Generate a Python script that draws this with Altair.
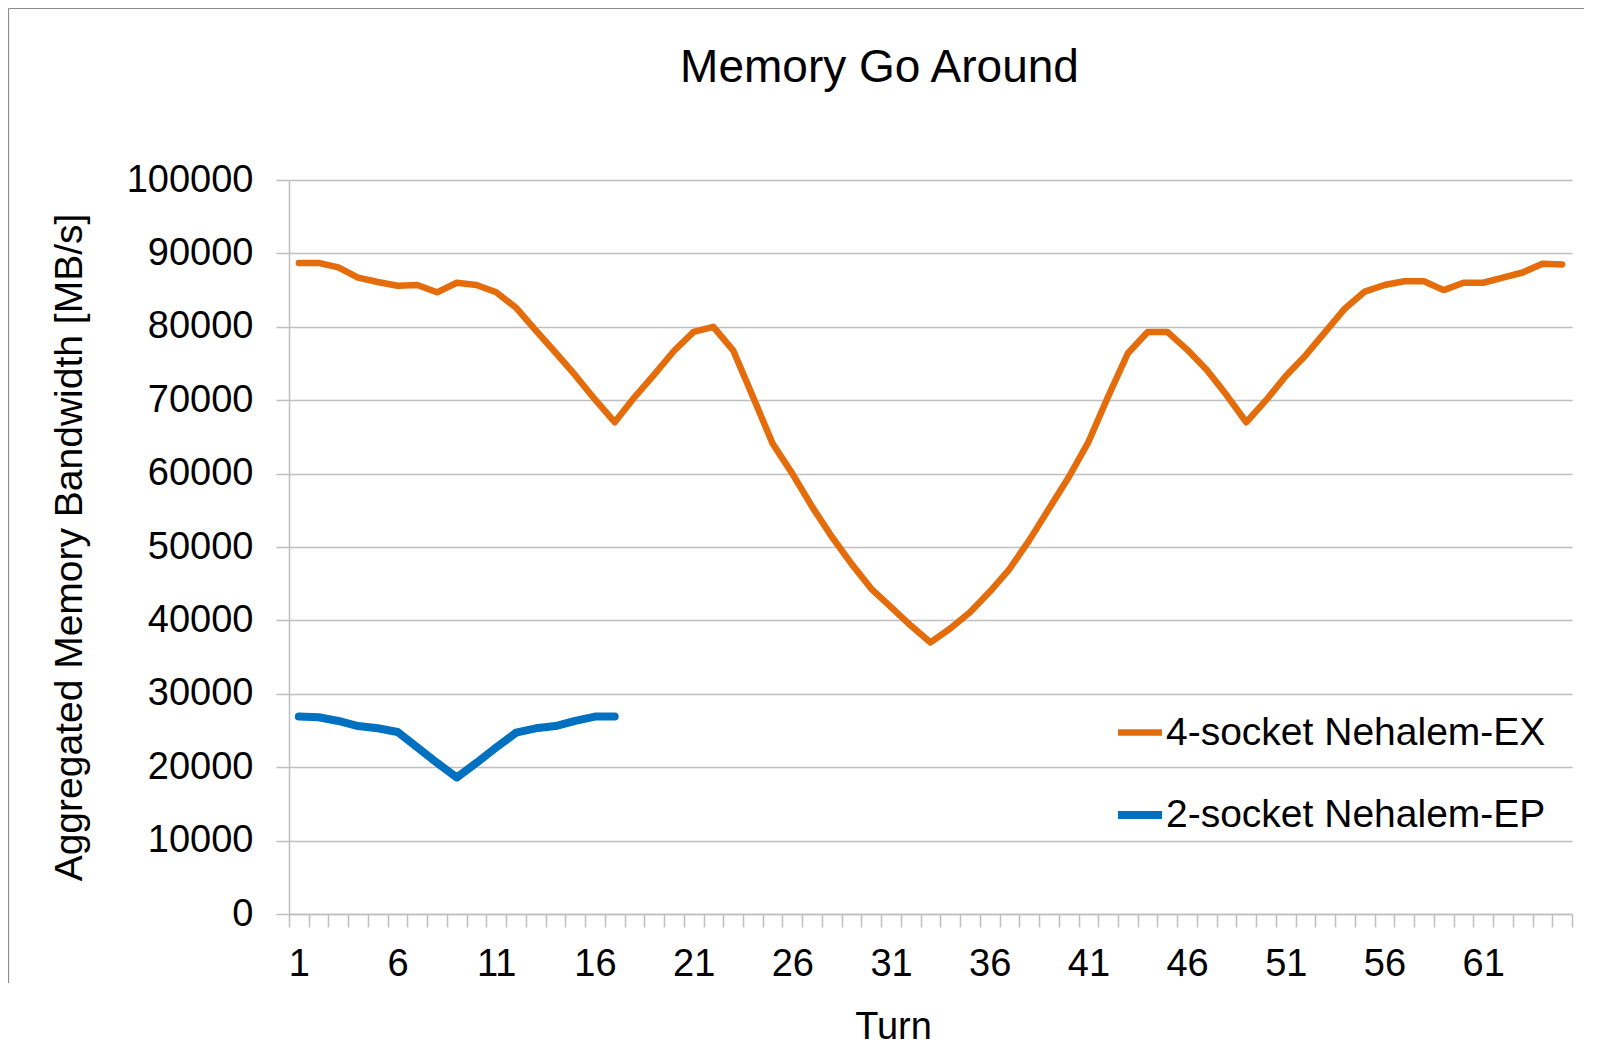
import altair as alt
import pandas as pd

# ---- data ----
turn_ex = list(range(1, 66))
bw_ex = [88700, 88700, 88100, 86700, 86100, 85600, 85700, 84700, 86000, 85700,
         84700, 82600, 79500, 76500, 73400, 70100, 67000, 70400, 73500, 76700,
         79300, 80000, 76800, 70500, 64100, 60000, 55500, 51400, 47700, 44300,
         41800, 39300, 37000, 38900, 41100, 43900, 47000, 50900, 55200, 59500,
         64300, 70500, 76400, 79300, 79300, 76900, 74100, 70700, 67000, 70000,
         73300, 76100, 79300, 82500, 84800, 85700, 86200, 86200, 85000, 86000,
         86000, 86700, 87400, 88600, 88500]
turn_ep = list(range(1, 18))
bw_ep = [26900, 26800, 26300, 25600, 25300, 24800, 22700, 20600, 18600, 20600,
         22700, 24700, 25300, 25600, 26300, 26900, 26900]
series_names = ["4-socket Nehalem-EX", "2-socket Nehalem-EP"]
series_colors = ["#E46C0A", "#0070C0"]
series_widths = [6.5, 8]
y_ticks = list(range(0, 100001, 10000))

df = pd.concat([
    pd.DataFrame({"turn": turn_ex, "bw": bw_ex, "series": series_names[0]}),
    pd.DataFrame({"turn": turn_ep, "bw": bw_ep, "series": series_names[1]}),
])

W, H = 1283, 734
FONT = "Liberation Sans"
GRAY = "#BFBFBF"

lines = alt.Chart(df).mark_line(strokeCap="round", strokeJoin="round").encode(
    x=alt.X(
        "turn:O",
        bandPosition=0.5,
        scale=alt.Scale(type="band", domain=turn_ex, paddingInner=0, paddingOuter=0),
        axis=alt.Axis(
            title="Turn",
            tickBand="extent",
            labelExpr="(datum.value - 1) % 5 == 0 ? datum.label : ''",
            labelOverlap=False,
            labelAngle=0,
            labelFontSize=38,
            labelPadding=18,
            tickSize=13,
            tickColor=GRAY,
            tickWidth=1.5,
            domainColor=GRAY,
            domainWidth=1.5,
            grid=False,
            titleFontSize=38,
            titleFontWeight="normal",
            titleX=604,
            titleY=113,
            titleBaseline="middle",
        ),
    ),
    y=alt.Y(
        "bw:Q",
        scale=alt.Scale(domain=[0, 100000], nice=False),
        axis=alt.Axis(
            title="Aggregated Memory Bandwidth [MB/s]",
            values=y_ticks,
            format="d",
            labelFontSize=38,
            labelPadding=23,
            tickSize=13,
            tickColor=GRAY,
            tickWidth=1.5,
            gridColor=GRAY,
            gridWidth=1.5,
            domainColor=GRAY,
            domainWidth=1.5,
            titleFontSize=39,
            titleFontWeight="normal",
            titleAngle=270,
            titleX=-220,
            titleY=H / 2,
            titleAlign="center",
            titleBaseline="middle",
        ),
    ),
    color=alt.Color(
        "series:N",
        scale=alt.Scale(domain=series_names, range=series_colors),
        legend=alt.Legend(
            title=None,
            orient="none",
            legendX=825,
            legendY=527,
            symbolType="stroke",
            symbolSize=1936,
            symbolStrokeWidth=7,
            labelFontSize=39,
            labelOffset=0,
            rowPadding=36,
            padding=0,
            labelLimit=600,
            labelColor="black",
        ),
    ),
    strokeWidth=alt.StrokeWidth(
        "series:N", scale=alt.Scale(domain=series_names, range=series_widths), legend=None
    ),
)

frame_df = pd.DataFrame({"k": [0]})
top_border = alt.Chart(frame_df).mark_rule(color="#8C8C8C", strokeWidth=1.2).encode(
    x=alt.value(-280.5), x2=alt.value(W + 20), y=alt.value(-171.5)
)
left_border = alt.Chart(frame_df).mark_rule(color="#8C8C8C", strokeWidth=1.2).encode(
    x=alt.value(-280.5), y=alt.value(-171.5), y2=alt.value(803)
)

chart = alt.layer(lines, top_border, left_border).properties(
    width=W,
    height=H,
    title=alt.Title(
        "Memory Go Around",
        fontSize=46,
        fontWeight="normal",
        anchor="middle",
        frame="group",
        dx=-51,
        baseline="alphabetic",
        offset=-120,
        color="black",
    ),
    autosize=alt.AutoSizeParams(type="none"),
    padding={"left": 281, "top": 172, "right": 12, "bottom": 140},
).configure(font=FONT).configure_view(stroke=None).configure_axis(
    labelColor="black", titleColor="black", labelFont=FONT, titleFont=FONT
).configure_legend(labelFont=FONT)

chart.save("out.html", embed_options={"renderer": "svg", "actions": False})
